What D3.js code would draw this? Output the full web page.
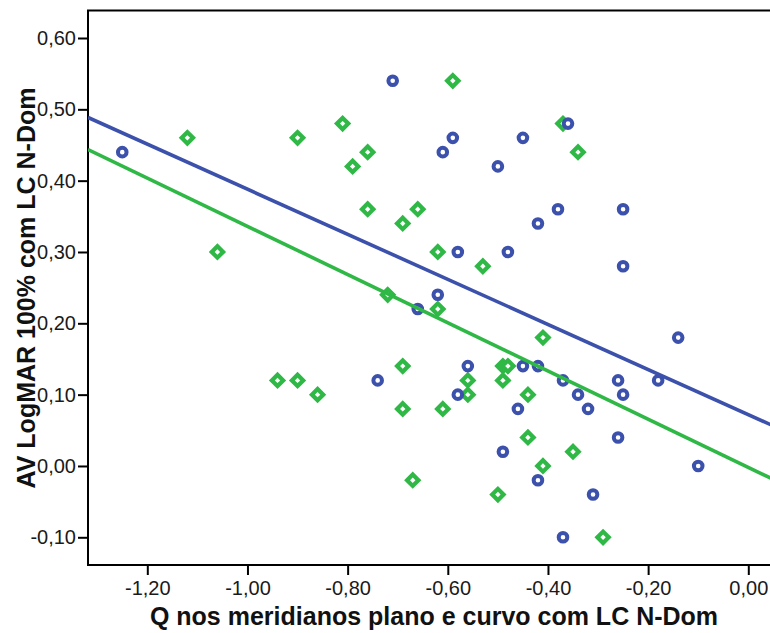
<!DOCTYPE html>
<html>
<head>
<meta charset="utf-8">
<script src="https://cdn.jsdelivr.net/npm/d3@7"></script>
<style>
  html, body { margin: 0; padding: 0; background: #fff; }
  svg { display: block; font-family: Arial, "Liberation Sans", sans-serif; }
</style>
</head>
<body>
<svg id="chart" width="770" height="633"></svg>
<script>
// Blue circles: Q value (x) and LogMAR visual acuity (y)
const blueX = [-1.25, -0.71, -0.59, -0.61, -0.50, -0.36, -0.45, -0.38, -0.25,
  -0.42, -0.48, -0.58, -0.25, -0.14, -0.45, -0.42, -0.37, -0.26, -0.18,
  -0.34, -0.25, -0.46, -0.32, -0.62, -0.66, -0.56, -0.74, -0.58,
  -0.49, -0.26, -0.10, -0.42, -0.31, -0.37];
const blueY = [0.44, 0.54, 0.46, 0.44, 0.42, 0.48, 0.46, 0.36, 0.36,
  0.34, 0.30, 0.30, 0.28, 0.18, 0.14, 0.14, 0.12, 0.12, 0.12,
  0.10, 0.10, 0.08, 0.08, 0.24, 0.22, 0.14, 0.12, 0.10,
  0.02, 0.04, 0.00, -0.02, -0.04, -0.10];

// Green diamonds
const greenX = [-1.12, -0.59, -0.81, -0.90, -0.76, -0.79, -0.76, -0.66, -0.69,
  -1.06, -0.62, -0.53, -0.72, -0.62, -0.69, -0.94, -0.90, -0.86, -0.69,
  -0.61, -0.56, -0.56, -0.49, -0.48, -0.49, -0.41, -0.44, -0.37, -0.34,
  -0.44, -0.35, -0.41, -0.50, -0.29, -0.67];
const greenY = [0.46, 0.54, 0.48, 0.46, 0.44, 0.42, 0.36, 0.36, 0.34,
  0.30, 0.30, 0.28, 0.24, 0.22, 0.14, 0.12, 0.12, 0.10, 0.08,
  0.08, 0.12, 0.10, 0.14, 0.14, 0.12, 0.18, 0.10, 0.48, 0.44,
  0.04, 0.02, 0.00, -0.04, -0.10, -0.02];

// Linear fit lines: [intercept, slope]
const blueFit = [0.072, -0.316];
const greenFit = [-0.002, -0.338];

const xTicks = [-1.2, -1.0, -0.8, -0.6, -0.4, -0.2, 0.0];
const yTicks = [-0.1, 0.0, 0.1, 0.2, 0.3, 0.4, 0.5, 0.6];
const xTitle = "Q nos meridianos plano e curvo com LC N-Dom";
const yTitle = "AV LogMAR 100% com LC N-Dom";

const blue = "#3c51ab";
const green = "#2fb846";

const svg = d3.select("#chart");
const plot = { left: 88, top: 10.5, right: 775, bottom: 565 };

const x = d3.scaleLinear().domain([-1.2, 0]).range([147.3, 748.3]);
const y = d3.scaleLinear().domain([-0.1, 0.6]).range([537.3, 38]);

const fmt = v => d3.format(".2f")(v).replace(".", ",").replace("−", "-");

// Frame
svg.append("rect")
  .attr("x", plot.left).attr("y", plot.top)
  .attr("width", plot.right - plot.left).attr("height", plot.bottom - plot.top)
  .attr("fill", "none").attr("stroke", "#000").attr("stroke-width", 2);

// Axes
const xAxis = d3.axisBottom(x).tickValues(xTicks).tickFormat(fmt).tickSize(10).tickPadding(6);
const yAxis = d3.axisLeft(y).tickValues(yTicks).tickFormat(fmt).tickSize(10).tickPadding(2);

const gx = svg.append("g").attr("transform", `translate(0,${plot.bottom})`).call(xAxis);
const gy = svg.append("g").attr("transform", `translate(${plot.left},0)`).call(yAxis);
[gx, gy].forEach(g => {
  g.select(".domain").remove();
  g.selectAll(".tick line").attr("stroke", "#000").attr("stroke-width", 2);
  g.selectAll(".tick text").attr("fill", "#1a1a1a").style("font-size", "20px")
    .style("font-family", "Arial, 'Liberation Sans', sans-serif");
});

// Clip region for fit lines
svg.append("clipPath").attr("id", "plotclip")
  .append("rect").attr("x", plot.left).attr("y", plot.top)
  .attr("width", plot.right - plot.left).attr("height", plot.bottom - plot.top);

const xMin = x.invert(plot.left), xMax = x.invert(plot.right);
function fitLine(fit, color) {
  const pts = [xMin, xMax].map(v => [x(v), y(fit[0] + fit[1] * v)]);
  svg.append("path")
    .attr("d", d3.line()(pts))
    .attr("clip-path", "url(#plotclip)")
    .attr("stroke", color).attr("stroke-width", 3.6).attr("fill", "none");
}

// Points
const diamond = d3.symbol().type(d3.symbolSquare).size(64);
svg.append("g").selectAll("path").data(d3.range(greenX.length)).join("path")
  .attr("d", diamond)
  .attr("transform", i => `translate(${x(greenX[i])},${y(greenY[i])}) rotate(45)`)
  .attr("fill", "#fff").attr("stroke", green).attr("stroke-width", 4.2);

svg.append("g").selectAll("circle").data(d3.range(blueX.length)).join("circle")
  .attr("cx", i => x(blueX[i])).attr("cy", i => y(blueY[i])).attr("r", 4.3)
  .attr("fill", "#fff").attr("stroke", blue).attr("stroke-width", 4);

fitLine(blueFit, blue);
fitLine(greenFit, green);

// Titles
svg.append("text")
  .attr("x", 434).attr("y", 625)
  .attr("text-anchor", "middle")
  .style("font-size", "25px").style("font-weight", "bold").attr("fill", "#111")
  .text(xTitle);

svg.append("text")
  .attr("transform", `translate(35,288) rotate(-90)`)
  .attr("text-anchor", "middle")
  .style("font-size", "25px").style("font-weight", "bold").attr("fill", "#111")
  .text(yTitle);
</script>
</body>
</html>
